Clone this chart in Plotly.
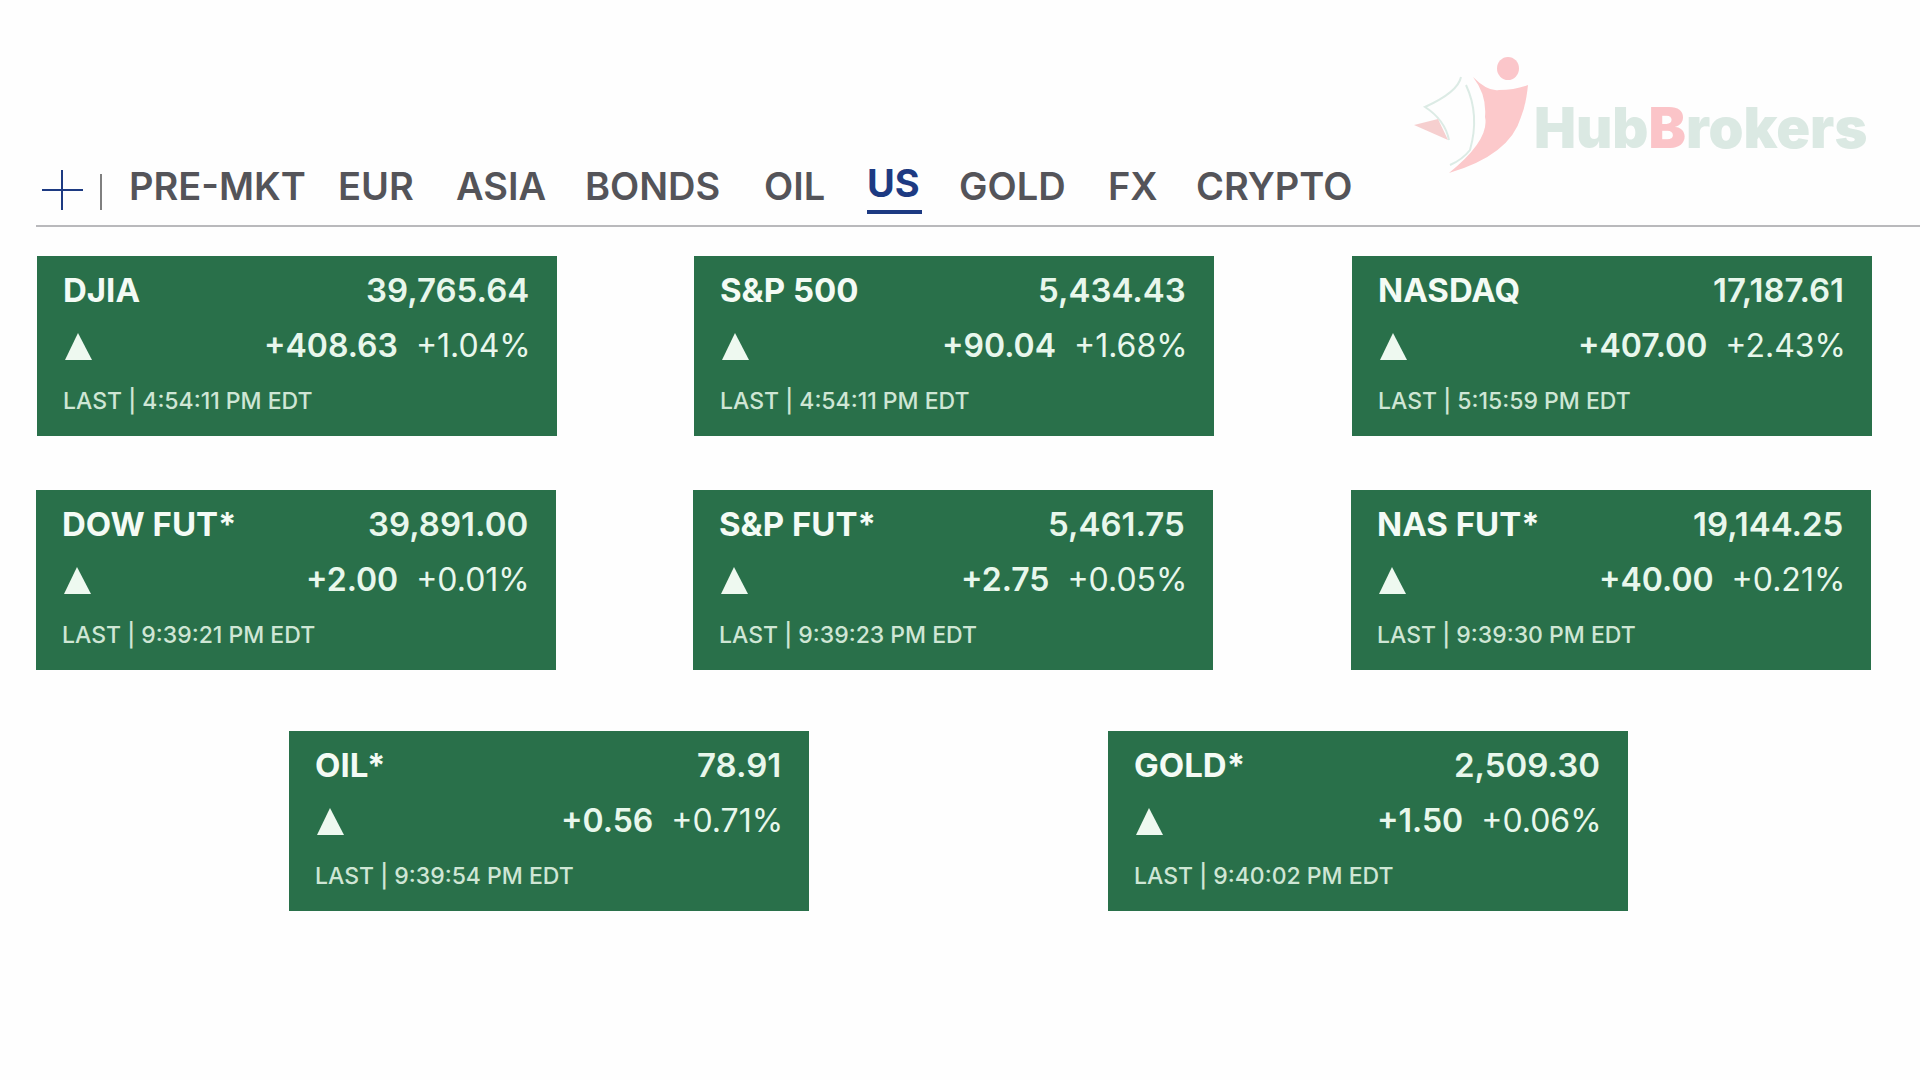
import plotly.graph_objects as go

# ticker values
names = ['DJIA', 'S&P 500', 'NASDAQ', 'DOW FUT*', 'S&P FUT*', 'NAS FUT*', 'OIL*', 'GOLD*']
prices = ['39,765.64', '5,434.43', '17,187.61', '39,891.00', '5,461.75', '19,144.25', '78.91', '2,509.30']
changes = ['+408.63', '+90.04', '+407.00', '+2.00', '+2.75', '+40.00', '+0.56', '+1.50']
percents = ['+1.04%', '+1.68%', '+2.43%', '+0.01%', '+0.05%', '+0.21%', '+0.71%', '+0.06%']
times = ['4:54:11 PM', '4:54:11 PM', '5:15:59 PM', '9:39:21 PM', '9:39:23 PM', '9:39:30 PM', '9:39:54 PM', '9:40:02 PM']
tabs = ['PRE-MKT', 'EUR', 'ASIA', 'BONDS', 'OIL', 'US', 'GOLD', 'FX', 'CRYPTO']

# layout of the page, in screen pixels
card_left = [37, 694, 1352, 36, 693, 1351, 289, 1108]
card_top = [256, 256, 256, 490, 490, 490, 731, 731]
card_w, card_h = 520, 180
tab_left = [128, 337, 455, 584, 763, 866, 958, 1107, 1195]

GREEN = '#29704a'
NAVY = '#1d3a82'
FONT = 'Inter'

fig = go.Figure()


def label(x, y, text, size, color, anchor='left', weight=400):
    fig.add_annotation(x=x, y=y, text=text, xref='x', yref='y', showarrow=False,
                       xanchor=anchor, yanchor='middle', borderpad=0,
                       font=dict(family=FONT, size=size, color=color, weight=weight))


# tab bar
for tab, x in zip(tabs, tab_left):
    if tab == 'US':
        label(x, 183, tab, 38, NAVY, weight=700)
    else:
        label(x, 186, tab, 38, '#545459', weight=600)
fig.add_shape(type='line', x0=867, x1=922, y0=212, y1=212, line=dict(color=NAVY, width=4))
fig.add_shape(type='line', x0=36, x1=1920, y0=226, y1=226, line=dict(color='#b9b9bc', width=2))
fig.add_shape(type='line', x0=42, x1=83, y0=190, y1=190, line=dict(color=NAVY, width=2))
fig.add_shape(type='line', x0=62, x1=62, y0=170, y1=210, line=dict(color=NAVY, width=2))
fig.add_shape(type='line', x0=101, x1=101, y0=174, y1=210, line=dict(color='#555555', width=1.5))

# cards
for i in range(len(names)):
    l, t = card_left[i], card_top[i]
    r = l + card_w
    fig.add_shape(type='rect', x0=l, x1=r, y0=t, y1=t + card_h,
                  fillcolor=GREEN, line=dict(width=0), layer='below')
    label(l + 25, t + 34, names[i], 33, '#f4fbf5', weight=700)
    label(r - 27, t + 34, prices[i], 33, '#e8f7ec', 'right', weight=600)
    label(r - 25, t + 89,
          '<span style="font-weight:600">' + changes[i] + '</span>\u00a0\u00a0' + percents[i],
          32, '#e8f7ec', 'right')
    label(l + 25, t + 145, 'LAST | ' + times[i] + ' EDT', 23, '#cfe6d5', weight=500)
    fig.add_shape(type='path', fillcolor='#eef9f0', line=dict(width=0),
                  path=f'M {l + 41} {t + 77} L {l + 55} {t + 104} L {l + 28} {t + 104} Z')

# watermark logo
fig.add_shape(type='path', fillcolor='#fcc9cb', line=dict(width=0), layer='below',
              path='M 1473 77 Q 1488 92 1499 90 Q 1515 90 1528 85 Q 1526 105 1521 117 '
                   'Q 1510 155 1449 173 Q 1490 140 1485 117 Q 1487 95 1473 77 Z')
fig.add_shape(type='circle', x0=1497, x1=1519, y0=57, y1=80, fillcolor='#fbc6ca',
              line=dict(width=0), layer='below')
fig.add_shape(type='path', line=dict(color='#dcebe5', width=2), layer='below',
              path='M 1461 77 Q 1458 92 1425 107 Q 1445 120 1449 140')
fig.add_shape(type='path', line=dict(color='#dcebe5', width=2), layer='below',
              path='M 1466 85 Q 1480 115 1470 150 Q 1462 160 1450 165')
fig.add_shape(type='path', fillcolor='#f6cfcf', line=dict(width=0), layer='below',
              path='M 1414 125 L 1438 119 L 1448 140 Z')
label(1533, 128,
      '<span style="color:#dbe9e3">Hub</span><span style="color:#fbc4c8">B</span>'
      '<span style="color:#dbe9e3">rokers</span>', 56, '#dbe9e3', weight=900)

fig.update_xaxes(range=[0, 1920], visible=False)
fig.update_yaxes(range=[1080, 0], visible=False)
fig.update_layout(width=1920, height=1080, margin=dict(l=0, r=0, t=0, b=0),
                  plot_bgcolor='#fefefe', paper_bgcolor='#fefefe', showlegend=False)
fig.write_html('out.html', config=dict(displayModeBar=False),
               post_script="document.body.style.margin='0';")
